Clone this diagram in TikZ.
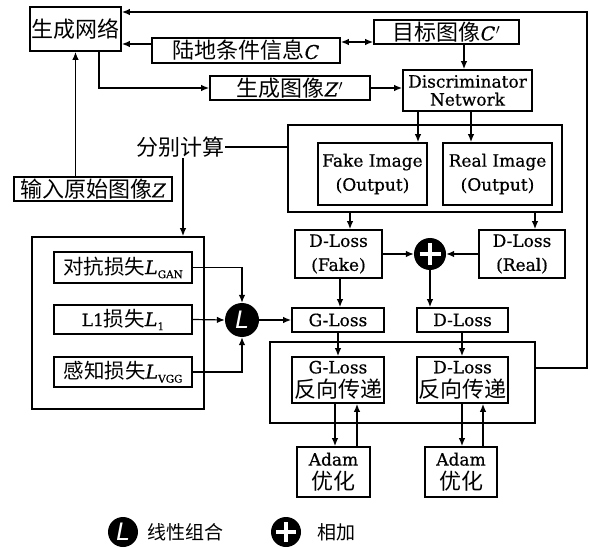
\documentclass[tikz,border=0pt]{standalone}
\usepackage{fontspec}
\setmainfont{DejaVu Serif}[FakeBold=0.6]
\newfontfamily\cjk{Noto Sans CJK SC}
\newfontfamily\lsans{DejaVu Sans}
\usetikzlibrary{arrows.meta,calc}
\newcommand{\zh}[1]{{\cjk\fontsize{22}{26}\selectfont #1}}
\newcommand{\zhs}[1]{{\cjk\fontsize{20.5}{24}\selectfont #1}}
\newcommand{\zhl}[1]{{\cjk\fontsize{19}{22}\selectfont #1}}
\newcommand{\iv}[1]{{\fontsize{19}{22}\selectfont\itshape #1}}
\newcommand{\mysub}[1]{\raisebox{-4pt}{\fontsize{10.5}{10.5}\selectfont #1}}
\newcommand{\pr}{\kern0.5pt{\fontsize{19}{22}\selectfont$'$}}
\begin{document}
\begin{tikzpicture}[x=1pt,y=-1pt,
  every node/.style={font=\fontsize{17}{24}\selectfont},
  box/.style={draw, line width=1.8pt, inner sep=0pt, align=center},
  arr/.style={-{Latex[length=8pt,width=6.5pt]}, line width=1.2pt},
  darr/.style={{Latex[length=8pt,width=6.5pt]}-{Latex[length=8pt,width=6.5pt]}, line width=1.2pt},
  ln/.style={line width=1.2pt},
  dot/.style={circle, fill=black, inner sep=0pt},
  lcirc/.style={dot, text=white, font=\lsans\itshape\fontsize{24}{24}\selectfont}]
\useasboundingbox[fill=white] (0,0) rectangle (589,548);

% nodes
\node[box, minimum width=91pt, minimum height=44pt] (gen) at (75.5,29) {\zh{生成网络}};
\node[box, minimum width=188pt, minimum height=25pt] (cond) at (246,50.5) {\zh{陆地条件信息}\iv{C}};
\node[box, minimum width=145pt, minimum height=24pt] (target) at (446.5,32) {\zh{目标图像}\iv{C}\pr};
\node[box, minimum width=160pt, minimum height=24pt] (genimg) at (290,88) {\zh{生成图像}\iv{Z}\pr};
\node[box, minimum width=129pt, minimum height=41pt, font=\fontsize{17}{18}\selectfont] (disc) at (467.5,90.5) {Discriminator\\Network};
\node[box, minimum width=274pt, minimum height=87pt] (cont1) at (425,168.5) {};
\node[box, minimum width=109pt, minimum height=62pt] (fake) at (372.5,174) {Fake Image\\(Output)};
\node[box, minimum width=109pt, minimum height=62pt] (real) at (497.5,174) {Real Image\\(Output)};
\node[box, minimum width=87pt, minimum height=48pt] (dlf) at (338.5,254) {D-Loss\\(Fake)};
\node[box, minimum width=86pt, minimum height=48pt] (dlr) at (522,254) {D-Loss\\(Real)};
\node[dot, minimum size=32pt] (plus) at (430,254) {};
\node[box, minimum width=158pt, minimum height=24pt] (input) at (93,189) {\zh{输入原始图像}\iv{Z}};
\node[inner sep=1pt] (calc) at (180,147) {\zh{分别计算}};
\node[box, minimum width=172pt, minimum height=172pt] (cont2) at (118,323) {};
\node[box, minimum width=138pt, minimum height=31pt] (gan) at (123,267.5) {\zhs{对抗损失}\iv{L}\mysub{GAN}};
\node[box, minimum width=138pt, minimum height=29pt] (l1) at (123,319.5) {L1\zhs{损失}\iv{L}\mysub{1}};
\node[box, minimum width=138pt, minimum height=30pt] (vgg) at (123,372) {\zhs{感知损失}\iv{L}\mysub{VGG}};
\node[lcirc, minimum size=34pt] (Lc) at (242,320) {L};
\node[box, minimum width=92pt, minimum height=24pt] (gloss) at (338,320) {G-Loss};
\node[box, minimum width=91pt, minimum height=24pt] (dloss) at (462.5,320) {D-Loss};
\node[box, minimum width=265pt, minimum height=81pt] (cont3) at (402.5,382.5) {};
\node[box, minimum width=92pt, minimum height=46pt] (gbp) at (338,380) {G-Loss\\\zh{反向传递}};
\node[box, minimum width=91pt, minimum height=46pt] (dbp) at (462.5,380) {D-Loss\\\zh{反向传递}};
\node[box, minimum width=73pt, minimum height=50pt] (adam1) at (333.5,472) {Adam\\\zh{优化}};
\node[box, minimum width=72pt, minimum height=50pt] (adam2) at (461,472) {Adam\\\zh{优化}};

% legend
\node[lcirc, minimum size=30pt] (legL) at (123,532) {L};
\node[anchor=west, inner sep=0pt] (legLt) at (147,532) {\zhl{线性组合}};
\node[dot, minimum size=30pt] (legP) at (286,532) {};
\node[anchor=west, inner sep=0pt] (legPt) at (317,532) {\zhl{相加}};

% plus signs
\foreach \p/\s in {plus/10.5, legP/10}{
  \draw[white, line width=4.5pt] ($(\p)+(-\s,0)$) -- ($(\p)+(\s,0)$);
  \draw[white, line width=4.5pt] ($(\p)+(0,-\s)$) -- ($(\p)+(0,\s)$);
}

% helper coordinates
\coordinate (r1) at (587,368);
\coordinate (r2) at (587,12);
\coordinate (c1) at ([yshift=6.5pt]cond.west);
\coordinate (c2) at ([yshift=8.5pt]cond.east);
\coordinate (c3) at ([xshift=17.5pt]target.south);
\coordinate (c4) at ([xshift=23.5pt]gen.south);
\coordinate (xa) at (418,0);
\coordinate (xb) at (471,0);
\coordinate (xc) at (350,0);
\coordinate (xd) at (535,0);
\coordinate (xe) at (340,0);
\coordinate (xf) at (183,0);
\coordinate (xg) at (335,0);
\coordinate (xh) at (357,0);
\coordinate (xi) at (462,0);
\coordinate (xj) at (483,0);

% connectors
\draw[arr] (r1 -| cont3.east) -- (r1) -- (r2) -- (r2 -| gen.east);
\draw[arr] (c1) -- (c1 -| gen.east);
\draw[darr] (c2) -- (c2 -| target.west);
\draw[arr] (c3) -- (c3 |- disc.north);
\draw[arr] (c4) |- (genimg.west);
\draw[arr] (genimg.east) -- (genimg.east -| disc.west);
\draw[arr] (xa |- disc.south) -- (xa |- fake.north);
\draw[arr] (xb |- disc.south) -- (xb |- real.north);
\draw[arr] (xc |- cont1.south) -- (xc |- dlf.north);
\draw[arr] (xd |- cont1.south) -- (xd |- dlr.north);
\draw[arr] (dlf.east) -- (plus.west);
\draw[arr] (dlr.west) -- (plus.east);
\draw[arr] (plus.south) -- (plus.south |- dloss.north);
\draw[arr] (xe |- dlf.south) -- (xe |- gloss.north);
\draw[ln] (calc.east) -- (calc.east -| cont1.west);
\draw[arr] (xf |- calc.south) -- (xf |- cont2.north);
\draw[arr] (input.north -| gen.south) -- (gen.south);
\draw[arr] (gan.east) -| (Lc.north);
\draw[arr] (l1.east) -- (Lc.west);
\draw[arr] (vgg.east) -| (Lc.south);
\draw[arr] (Lc.east) -- (gloss.west);
\draw[arr] (gloss.south) -- (gbp.north);
\draw[arr] (xi |- dloss.south) -- (xi |- dbp.north);
\draw[arr] (xg |- gbp.south) -- (xg |- adam1.north);
\draw[arr] (xh |- adam1.north) -- (xh |- gbp.south);
\draw[arr] (xi |- dbp.south) -- (xi |- adam2.north);
\draw[arr] (xj |- adam2.north) -- (xj |- dbp.south);
\end{tikzpicture}
\end{document}
